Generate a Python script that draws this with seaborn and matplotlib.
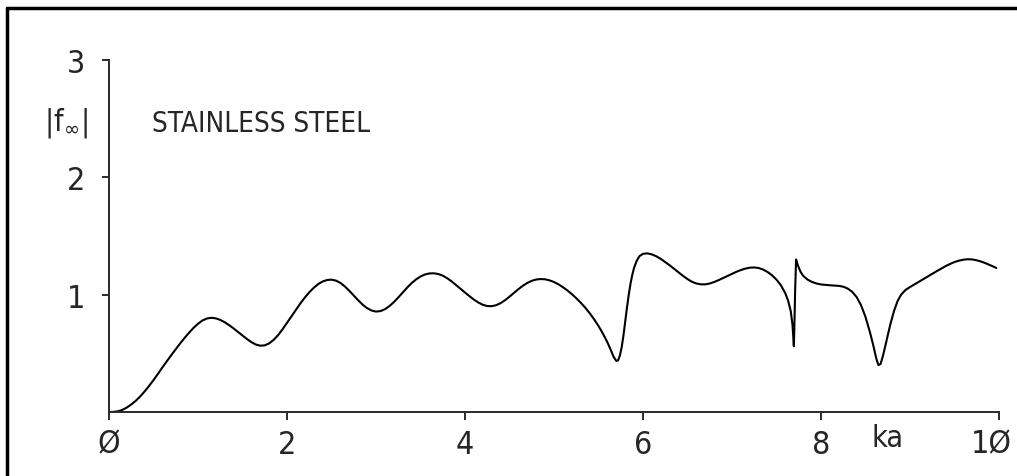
import matplotlib
matplotlib.use("Agg")
import matplotlib.pyplot as plt
from matplotlib.lines import Line2D
from matplotlib.transforms import ScaledTranslation
import seaborn as sns
import pandas as pd

# |f_inf| versus ka for a stainless steel sphere
ka = [0.00, 0.05, 0.10, 0.15, 0.20, 0.25, 0.30, 0.35, 0.40, 0.45,
      0.50, 0.55, 0.60, 0.65, 0.70, 0.75, 0.80, 0.85, 0.90, 0.95,
      1.00, 1.05, 1.10, 1.15, 1.20, 1.25, 1.30, 1.35, 1.40, 1.45,
      1.50, 1.55, 1.60, 1.65, 1.70, 1.75, 1.80, 1.85, 1.90, 1.95,
      2.00, 2.05, 2.10, 2.15, 2.20, 2.25, 2.30, 2.35, 2.40, 2.45,
      2.50, 2.55, 2.60, 2.65, 2.70, 2.75, 2.80, 2.85, 2.90, 2.95,
      3.00, 3.05, 3.10, 3.15, 3.20, 3.25, 3.30, 3.35, 3.40, 3.45,
      3.50, 3.55, 3.60, 3.65, 3.70, 3.75, 3.80, 3.85, 3.90, 3.95,
      4.00, 4.05, 4.10, 4.15, 4.20, 4.25, 4.30, 4.35, 4.40, 4.45,
      4.50, 4.55, 4.60, 4.65, 4.70, 4.75, 4.80, 4.85, 4.90, 4.95,
      5.00, 5.05, 5.10, 5.15, 5.20, 5.25, 5.30, 5.35, 5.40, 5.45,
      5.50, 5.55, 5.60, 5.64, 5.67, 5.70, 5.72, 5.74, 5.76, 5.78,
      5.80, 5.82, 5.84, 5.86, 5.88, 5.90, 5.93, 5.96, 6.00, 6.05,
      6.10, 6.15, 6.20, 6.25, 6.30, 6.35, 6.40, 6.45, 6.50, 6.55,
      6.60, 6.65, 6.70, 6.75, 6.80, 6.85, 6.90, 6.95, 7.00, 7.05,
      7.10, 7.15, 7.20, 7.25, 7.30, 7.35, 7.40, 7.45, 7.50, 7.55,
      7.60, 7.63, 7.66, 7.68, 7.69, 7.695, 7.70, 7.71, 7.72, 7.74,
      7.77, 7.80, 7.85, 7.90, 7.95, 8.00, 8.10, 8.20, 8.25, 8.30,
      8.35, 8.40, 8.45, 8.50, 8.55, 8.59, 8.62, 8.645, 8.67, 8.70,
      8.74, 8.78, 8.82, 8.86, 8.90, 8.95, 9.00, 9.05, 9.10, 9.15,
      9.20, 9.25, 9.30, 9.35, 9.40, 9.45, 9.50, 9.55, 9.60, 9.65,
      9.70, 9.75, 9.80, 9.85, 9.90, 9.95, 9.97]
f_abs = [0.000, 0.001, 0.006, 0.018, 0.038, 0.064, 0.095, 0.132, 0.175, 0.222,
         0.272, 0.325, 0.380, 0.433, 0.485, 0.535, 0.585, 0.632, 0.676, 0.717,
         0.752, 0.780, 0.797, 0.803, 0.798, 0.785, 0.765, 0.740, 0.712, 0.682,
         0.652, 0.622, 0.595, 0.575, 0.565, 0.568, 0.585, 0.615, 0.655, 0.705,
         0.760, 0.815, 0.870, 0.925, 0.975, 1.020, 1.058, 1.090, 1.112, 1.125,
         1.128, 1.120, 1.100, 1.070, 1.033, 0.993, 0.952, 0.915, 0.885, 0.865,
         0.856, 0.860, 0.876, 0.902, 0.936, 0.976, 1.018, 1.060, 1.098, 1.130,
         1.155, 1.172, 1.181, 1.182, 1.176, 1.162, 1.140, 1.113, 1.082, 1.050,
         1.018, 0.987, 0.958, 0.933, 0.914, 0.903, 0.902, 0.910, 0.928, 0.953,
         0.983, 1.015, 1.047, 1.076, 1.100, 1.118, 1.129, 1.133, 1.131, 1.122,
         1.108, 1.088, 1.064, 1.036, 1.005, 0.970, 0.932, 0.890, 0.843, 0.791,
         0.733, 0.668, 0.594, 0.525, 0.470, 0.435, 0.440, 0.480, 0.550, 0.650,
         0.770, 0.890, 1.000, 1.095, 1.170, 1.230, 1.290, 1.328, 1.348, 1.352,
         1.343, 1.327, 1.305, 1.278, 1.250, 1.220, 1.190, 1.160, 1.133, 1.110,
         1.095, 1.088, 1.088, 1.095, 1.108, 1.124, 1.142, 1.160, 1.178, 1.195,
         1.210, 1.222, 1.230, 1.232, 1.227, 1.214, 1.193, 1.165, 1.128, 1.080,
         1.010, 0.950, 0.860, 0.740, 0.620, 0.560, 0.700, 1.050, 1.300, 1.250,
         1.195, 1.160, 1.128, 1.108, 1.095, 1.087, 1.080, 1.075, 1.068, 1.052,
         1.025, 0.980, 0.910, 0.810, 0.680, 0.560, 0.460, 0.400, 0.410, 0.490,
         0.620, 0.750, 0.860, 0.945, 1.000, 1.040, 1.065, 1.088, 1.110, 1.132,
         1.155, 1.178, 1.200, 1.222, 1.243, 1.262, 1.278, 1.290, 1.298, 1.302,
         1.300, 1.293, 1.282, 1.268, 1.252, 1.235, 1.227]

x_ticks = [0, 2, 4, 6, 8, 10]
x_tick_labels = ["Ø", "2", "4", "6", "8", "1Ø"]
y_ticks = [1, 2, 3]
y_tick_labels = ["1", "2", "3"]

sns.set_style("white")
plt.rcParams["font.family"] = ["DejaVu Sans"]
plt.rcParams["font.stretch"] = "condensed"
plt.rcParams["mathtext.default"] = "regular"

W, H = 1017, 477
fig = plt.figure(figsize=(W / 100, H / 100), dpi=100)
ax = fig.add_axes([109 / W, 1 - 413 / H, (999 - 109) / W, (413 - 61) / H])

df = pd.DataFrame({"ka": ka, "f": f_abs})
sns.lineplot(data=df, x="ka", y="f", ax=ax, color="black", linewidth=1.5,
             sort=False, estimator=None)

ax.set_xlim(0, 10)
ax.set_ylim(0, 3)
ax.set_xticks(x_ticks)
ax.set_xticklabels(x_tick_labels)
ax.set_yticks(y_ticks)
ax.set_yticklabels(y_tick_labels)
ax.set_xlabel("")
ax.set_ylabel("")

for side in ("top", "right"):
    ax.spines[side].set_visible(False)
for side in ("left", "bottom"):
    ax.spines[side].set_color("#2a2a2a")
    ax.spines[side].set_linewidth(1.4)

ax.tick_params(axis="x", direction="out", length=6, width=1.4, color="#2a2a2a",
               pad=6, labelsize=23, bottom=True)
ax.tick_params(axis="y", direction="out", length=5, width=1.4, color="#2a2a2a",
               pad=12, labelsize=23, left=True)

# nudge the last x label left so it stays inside the figure
last = ax.get_xticklabels()[-1]
last.set_transform(last.get_transform() + ScaledTranslation(-8 / 100, 0, fig.dpi_scale_trans))

ax.text(8.57, -0.29, "ka", fontsize=22, ha="left", va="baseline", clip_on=False)
fig.text(88 / W, 1 - 131 / H, "|f$_{\\infty}$|", fontsize=22, ha="right", va="baseline")
fig.text(152 / W, 1 - 132 / H, "STAINLESS STEEL", fontsize=20, ha="left", va="baseline")

# frame lines along the top and left edges
fig.add_artist(Line2D([7 / W, 7 / W], [0, 1 - 9 / H], transform=fig.transFigure,
                      color="black", linewidth=2.5))
fig.add_artist(Line2D([7 / W, 1], [1 - 9 / H, 1 - 9 / H], transform=fig.transFigure,
                      color="black", linewidth=2.5))

fig.savefig("out.png", dpi=100)
